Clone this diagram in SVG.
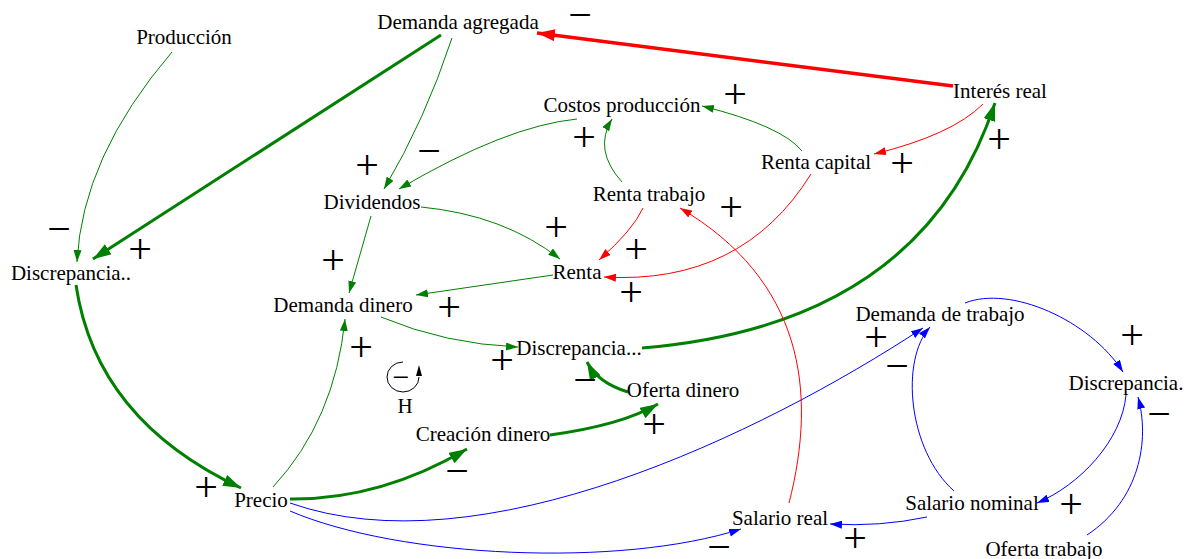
<svg xmlns="http://www.w3.org/2000/svg" width="1196" height="559" viewBox="0 0 1196 559">
<style>
.lbl{font-family:"Liberation Serif","Times New Roman",serif;font-size:21px;fill:#000;text-anchor:middle}
.sg{font-family:"Liberation Serif","Times New Roman",serif;font-size:42px;fill:#000;text-anchor:middle}
.g{stroke:#008000;fill:none;stroke-width:1}
.G{stroke:#008000;fill:none;stroke-width:3}
.r{stroke:#ff0000;fill:none;stroke-width:1}
.R{stroke:#ff0000;fill:none;stroke-width:3.5}
.b{stroke:#0000ff;fill:none;stroke-width:1}
.g{marker-end:url(#ag)}.G{marker-end:url(#aG)}.r{marker-end:url(#ar)}.R{marker-end:url(#aR)}.b{marker-end:url(#ab)}
</style>
<defs>
<marker id="ag" markerUnits="userSpaceOnUse" markerWidth="13" markerHeight="9" refX="12" refY="4" orient="auto"><path d="M0,0 L12,4 L0,8 z" fill="#008000"/></marker>
<marker id="aG" markerUnits="userSpaceOnUse" markerWidth="19" markerHeight="13" refX="18" refY="6" orient="auto"><path d="M0,0 L18,6 L0,12 z" fill="#008000"/></marker>
<marker id="ar" markerUnits="userSpaceOnUse" markerWidth="13" markerHeight="9" refX="12" refY="4" orient="auto"><path d="M0,0 L12,4 L0,8 z" fill="#ff0000"/></marker>
<marker id="aR" markerUnits="userSpaceOnUse" markerWidth="19" markerHeight="13" refX="18" refY="6" orient="auto"><path d="M0,0 L18,6 L0,12 z" fill="#ff0000"/></marker>
<marker id="ab" markerUnits="userSpaceOnUse" markerWidth="13" markerHeight="9" refX="12" refY="4" orient="auto"><path d="M0,0 L12,4 L0,8 z" fill="#0000ff"/></marker>
</defs>
<rect width="1196" height="559" fill="#fff"/>
<g id="connectors">
<path class="g" d="M172,52 Q82,157 77,262"/>
<path class="G" d="M441,35 L93,259"/>
<path class="g" d="M452,38 Q425,120 384,189"/>
<path class="g" d="M577,119 Q506,126 399,189"/>
<path class="g" d="M421,207 Q504,215 560,259"/>
<path class="g" d="M371,216 L349,293"/>
<path class="g" d="M553,275 L416,295"/>
<path class="g" d="M381,317 Q445,344 518,347"/>
<path class="g" d="M273,487 Q335,420 345,319"/>
<path class="G" d="M290,499 Q380,500 467,449"/>
<path class="G" d="M550,435 Q622,425 658,404"/>
<path class="G" d="M628,392 Q598,383 587,362"/>
<path class="G" d="M642,348 Q922,325 995,103"/>
<path class="G" d="M76,285 Q96,420 241,488"/>
<path class="g" d="M802,151 Q782,126 702,106"/>
<path class="g" d="M622,182 Q593,150 612,119"/>
<path class="R" d="M953,86 L537,33"/>
<path class="r" d="M983,104 Q952,135 874,154"/>
<path class="r" d="M811,174 Q742,285 604,277"/>
<path class="r" d="M643,208 Q633,230 599,260"/>
<path class="r" d="M789,503 C818,390 802,280 680,208"/>
<path class="b" d="M290,503 C480,570 760,435 923,328"/>
<path class="b" d="M290,511 C400,558 620,568 741,529"/>
<path class="b" d="M927,517 Q880,527 830,524"/>
<path class="b" d="M954,491 C908,450 900,360 930,327"/>
<path class="b" d="M965,303 C1010,285 1090,320 1123,372"/>
<path class="b" d="M1126,395 C1122,440 1080,485 1037,503"/>
<path class="b" d="M1087,535 C1140,500 1150,440 1138,397"/>
</g>
<g id="n-produccion"><text class="lbl" x="184" y="44">Producción</text></g>
<g id="n-demanda-agregada"><text class="lbl" x="458" y="29">Demanda agregada</text></g>
<g id="n-interes-real"><text class="lbl" x="1000" y="98">Interés real</text></g>
<g id="n-costos-produccion"><text class="lbl" x="622" y="112">Costos producción</text></g>
<g id="n-renta-capital"><text class="lbl" x="816" y="169">Renta capital</text></g>
<g id="n-renta-trabajo"><text class="lbl" x="649" y="201">Renta trabajo</text></g>
<g id="n-dividendos"><text class="lbl" x="372" y="209">Dividendos</text></g>
<g id="n-discrepancia1"><text class="lbl" x="71" y="280">Discrepancia..</text></g>
<g id="n-renta"><text class="lbl" x="577" y="279">Renta</text></g>
<g id="n-demanda-dinero"><text class="lbl" x="343" y="312">Demanda dinero</text></g>
<g id="n-discrepancia2"><text class="lbl" x="579" y="355">Discrepancia...</text></g>
<g id="n-oferta-dinero"><text class="lbl" x="683" y="397">Oferta dinero</text></g>
<g id="n-creacion-dinero"><text class="lbl" x="483" y="441">Creación dinero</text></g>
<g id="n-precio"><text class="lbl" x="261" y="507">Precio</text></g>
<g id="n-demanda-trabajo"><text class="lbl" x="940" y="321">Demanda de trabajo</text></g>
<g id="n-discrepancia3"><text class="lbl" x="1126" y="390">Discrepancia.</text></g>
<g id="n-salario-nominal"><text class="lbl" x="972" y="510">Salario nominal</text></g>
<g id="n-salario-real"><text class="lbl" x="780" y="525">Salario real</text></g>
<g id="n-oferta-trabajo"><text class="lbl" x="1044" y="556">Oferta trabajo</text></g>
<g id="loop-h">
<path d="M403,362 A16,15 0 1 0 419,377" fill="none" stroke="#000" stroke-width="1"/>
<path d="M419,365 L416,376 L422,376 z" fill="#000"/>
<text class="sg" x="401" y="387" style="font-size:30px">−</text>
<text class="lbl" x="405" y="413">H</text>
</g>
<g id="polarities">
<text class="sg" x="580" y="29">−</text>
<text class="sg" x="59" y="243">−</text>
<text class="sg" x="140" y="263">+</text>
<text class="sg" x="206" y="501">+</text>
<text class="sg" x="367" y="179">+</text>
<text class="sg" x="429" y="165">−</text>
<text class="sg" x="584" y="151">+</text>
<text class="sg" x="735" y="108">+</text>
<text class="sg" x="556" y="241">+</text>
<text class="sg" x="636" y="263">+</text>
<text class="sg" x="631" y="306">+</text>
<text class="sg" x="731" y="221">+</text>
<text class="sg" x="902" y="177">+</text>
<text class="sg" x="999" y="153">+</text>
<text class="sg" x="333" y="274">+</text>
<text class="sg" x="449" y="321">+</text>
<text class="sg" x="361" y="361">+</text>
<text class="sg" x="502" y="374">+</text>
<text class="sg" x="585" y="394">−</text>
<text class="sg" x="654" y="438">+</text>
<text class="sg" x="457" y="485">−</text>
<text class="sg" x="876" y="351">+</text>
<text class="sg" x="897" y="380">−</text>
<text class="sg" x="1132" y="349">+</text>
<text class="sg" x="1159" y="428">−</text>
<text class="sg" x="1071" y="518">+</text>
<text class="sg" x="855" y="552">+</text>
<text class="sg" x="719" y="561">−</text>
</g>
</svg>
